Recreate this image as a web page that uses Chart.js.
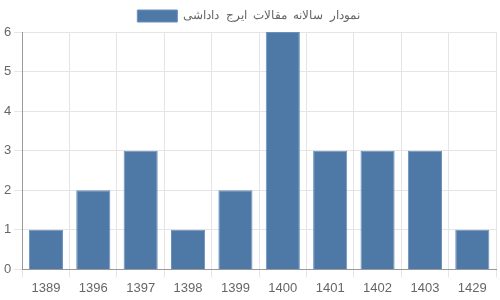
<!DOCTYPE html>
<html>
<head>
<meta charset="utf-8">
<script src="https://cdn.jsdelivr.net/npm/chart.js@4/dist/chart.umd.min.js"></script>
<style>
  html, body { margin: 0; padding: 0; background: #fff; }
  #wrap { width: 500px; height: 300px; }
</style>
</head>
<body>
<div id="wrap"><canvas id="chart"></canvas></div>
<script>
const years = ["1389", "1396", "1397", "1398", "1399", "1400", "1401", "1402", "1403", "1429"];
const articleCounts = [1, 2, 3, 1, 2, 6, 3, 3, 3, 1];
const seriesLabel = "نمودار سالانه مقالات ایرج داداشی";

Chart.defaults.font.family = "'Liberation Sans', Arial, sans-serif";
Chart.defaults.font.size = 12;
Chart.defaults.color = "#666";

// spread the legend letters a bit, like the reference
const legendSpacing = {
  id: "legendSpacing",
  beforeUpdate(chart) {
    const lg = chart.legend;
    if (!lg || lg._spaced) return;
    lg._spaced = true;
    const wrap = (fn) => function () {
      const ctx = this.ctx;
      const old = ctx.letterSpacing;
      ctx.letterSpacing = "3px";
      const r = fn.apply(this, arguments);
      ctx.letterSpacing = old;
      return r;
    };
    lg.fit = wrap(lg.fit);
    lg.draw = wrap(lg.draw);
  }
};

new Chart(document.getElementById("chart"), {
  type: "bar",
  data: {
    labels: years,
    datasets: [{
      label: seriesLabel,
      data: articleCounts,
      backgroundColor: "#4e79a7",
      borderColor: "#6a90bb",
      borderWidth: 1
    }]
  },
  options: {
    responsive: true,
    maintainAspectRatio: false,
    animation: false,
    layout: { padding: { left: 1, right: 4, bottom: 1 } },
    plugins: {
      legend: {
        labels: { boxWidth: 40, boxHeight: 12 }
      }
    },
    scales: {
      x: {
        ticks: { font: { size: 13 } },
        grid: { color: "#e5e5e5" },
        border: { color: "#999" }
      },
      y: {
        beginAtZero: true,
        max: 6,
        ticks: { stepSize: 1, font: { size: 13 } },
        grid: { color: "#e5e5e5" },
        border: { color: "#999" }
      }
    }
  },
  plugins: [legendSpacing]
});
</script>
</body>
</html>
